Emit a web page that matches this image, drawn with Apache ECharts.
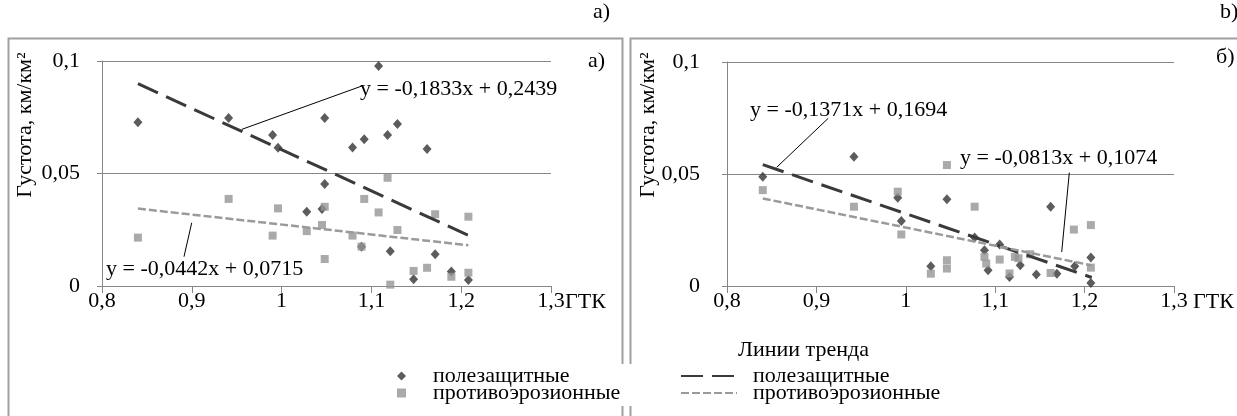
<!DOCTYPE html>
<html><head><meta charset="utf-8">
<script src="https://cdn.jsdelivr.net/npm/echarts@6/dist/echarts.min.js"></script>
<style>html,body{margin:0;padding:0;background:#fff}#c{width:1237px;height:416px}</style>
</head><body><div id="c"></div>
<script>
// ---- data ----
const xTickLabels = {'0.80':'0,8','0.90':'0,9','1.00':'1','1.10':'1,1','1.20':'1,2','1.30':'1,3'};
const yTickLabels = {'0.00':'0','0.05':'0,05','0.10':'0,1'};

// panel а) — полезащитные (diamonds)
const aPol = [[0.840,0.0728],[0.941,0.0747],[0.990,0.0671],[0.996,0.0615],[1.028,0.0330],[1.045,0.0342],[1.048,0.0747],[1.048,0.0453],[1.079,0.0616],[1.089,0.0175],[1.092,0.0652],[1.108,0.0978],[1.118,0.0671],[1.121,0.0154],[1.129,0.0720],[1.147,0.0030],[1.162,0.0609],[1.171,0.0141],[1.189,0.0064],[1.208,0.0027]];
// panel а) — противоэрозионные (squares)
const aPro = [[0.840,0.0215],[0.941,0.0387],[0.990,0.0224],[0.996,0.0345],[1.028,0.0244],[1.045,0.0271],[1.048,0.0352],[1.048,0.0120],[1.079,0.0224],[1.089,0.0175],[1.092,0.0387],[1.108,0.0327],[1.118,0.0481],[1.121,0.0006],[1.129,0.0249],[1.147,0.0067],[1.162,0.0081],[1.171,0.0319],[1.189,0.0041],[1.208,0.0308],[1.208,0.0059]];
// panel б) — полезащитные
const bPol = [[0.840,0.0488],[0.942,0.0577],[0.991,0.0394],[0.995,0.0290],[1.028,0.0088],[1.046,0.0387],[1.077,0.0217],[1.088,0.0160],[1.092,0.0070],[1.105,0.0185],[1.116,0.0040],[1.128,0.0093],[1.146,0.0051],[1.162,0.0354],[1.169,0.0055],[1.189,0.0088],[1.207,0.0127],[1.207,0.0013]];
// panel б) — противоэрозионные
const bPro = [[0.840,0.0428],[0.942,0.0354],[0.991,0.0421],[0.995,0.0230],[1.028,0.0055],[1.046,0.0540],[1.046,0.0115],[1.046,0.0078],[1.077,0.0354],[1.088,0.0130],[1.090,0.0100],[1.105,0.0118],[1.116,0.0056],[1.122,0.0130],[1.126,0.0124],[1.139,0.0142],[1.162,0.0058],[1.188,0.0252],[1.207,0.0272],[1.207,0.0082]];

// trend lines (end points of the printed equations over the data range)
const aPolTrend = [[0.840,0.0899],[1.208,0.0225]];
const aProTrend = [[0.840,0.0344],[1.208,0.0181]];
const bPolTrend = [[0.840,0.0542],[1.208,0.0038]];
const bProTrend = [[0.840,0.0391],[1.208,0.0092]];

// leader lines from equation labels to trend lines
const aPolLeader = [[0.9556,0.0696],[1.0895,0.0889]];
const aProLeader = [[0.8999,0.0281],[0.8913,0.0130]];
const bPolLeader = [[0.9133,0.0749],[0.8556,0.0530]];
const bProLeader = [[1.1829,0.0506],[1.1744,0.0152]];

const eqLabels = ['y = -0,1833x + 0,2439','y = -0,0442x + 0,0715','y = -0,1371x + 0,1694','y = -0,0813x + 0,1074'];
const nameP = 'полезащитные', nameR = 'противоэрозионные';
const yTitle = 'Густота, км/км²';

// ---- chart ----
const FONT = '"Liberation Serif","Times New Roman",serif';
const FS = 22;
const AX = '#868686';
const chart = echarts.init(document.getElementById('c'), null, {renderer:'canvas'});

function xAxis(idx){
  return {type:'value', gridIndex:idx, min:0.8, max:1.3, interval:0.1,
    axisLine:{show:true, lineStyle:{color:AX, width:1}},
    axisTick:{show:true, length:7, lineStyle:{color:AX}},
    splitLine:{show:false},
    axisLabel:{margin:4, color:'#000', fontFamily:FONT, fontSize:FS,
      formatter:v=>xTickLabels[v.toFixed(2)] || ''}};
}
function yAxis(idx, margin){
  return {type:'value', gridIndex:idx, min:0, max:0.1, interval:0.05,
    axisLine:{show:true, lineStyle:{color:AX, width:1}},
    axisTick:{show:true, length:5, lineStyle:{color:AX}},
    splitLine:{show:true, lineStyle:{color:AX, width:1}},
    axisLabel:{margin:margin, color:'#000', fontFamily:FONT, fontSize:FS,
      formatter:v=>yTickLabels[v.toFixed(2)] || ''}};
}
function scat(name, data, idx, isDiamond){
  return {type:'scatter', name:name, xAxisIndex:idx, yAxisIndex:idx, data:data,
    symbol:isDiamond?'diamond':'rect', symbolSize:isDiamond?[9,10]:8,
    itemStyle:{color:isDiamond?'#333333':'#959595'}, z:3, silent:true};
}
function trend(name, data, idx, isPol){
  return {type:'line', name:name, xAxisIndex:idx, yAxisIndex:idx, data:data,
    symbol:'none', showSymbol:false, silent:true, z:4,
    lineStyle:isPol?{color:'#3a3a3a', width:3, type:[22,9]}:{color:'#9a9a9a', width:2.5, type:[8,3]},
    itemStyle:{color:isPol?'#3a3a3a':'#9a9a9a'}};
}
function leader(data, idx){
  return {type:'line', name:'leader', xAxisIndex:idx, yAxisIndex:idx, data:data,
    symbol:'none', silent:true, z:5, lineStyle:{color:'#000', width:1}};
}
function txt(x, y, s, extra){
  return Object.assign({type:'text', x:x, y:y, z:10,
    style:Object.assign({text:s, fill:'#000', font:FS+'px '+FONT, align:'left', verticalAlign:'middle'}, extra||{})});
}
const legendText = {fontFamily:FONT, fontSize:FS, color:'#000', lineHeight:17};

const option = {
  animation:false,
  backgroundColor:'#fff',
  grid:[
    {left:102, top:61, width:449, height:225},
    {left:727, top:62, width:447, height:224}
  ],
  xAxis:[xAxis(0), xAxis(1)],
  yAxis:[yAxis(0,22), yAxis(1,27)],
  legend:[
    {data:[nameP, nameR], orient:'vertical', left:397, top:365, padding:0, itemWidth:9, itemHeight:9, itemGap:-5,
     selectedMode:false, textStyle:legendText, formatter:n=>'    '+n.trim()},
    {data:[nameP+' ', nameR+' '], orient:'vertical', left:680, top:365, padding:0, itemWidth:56, itemHeight:9, itemGap:-5,
     selectedMode:false, textStyle:legendText, itemStyle:{opacity:0}, formatter:n=>'  '+n.trim()}
  ],
  series:[
    scat(nameP, aPol, 0, true), scat(nameR, aPro, 0, false),
    trend(nameP+' ', aPolTrend, 0, true), trend(nameR+' ', aProTrend, 0, false),
    leader(aPolLeader, 0), leader(aProLeader, 0),
    scat(nameP, bPol, 1, true), scat(nameR, bPro, 1, false),
    trend(nameP+' ', bPolTrend, 1, true), trend(nameR+' ', bProTrend, 1, false),
    leader(bPolLeader, 1), leader(bProLeader, 1)
  ],
  graphic:[
    {type:'rect', z:0, shape:{x:8.5, y:38.5, width:614, height:420}, style:{fill:null, stroke:'#a0a0a0', lineWidth:2}},
    {type:'rect', z:0, shape:{x:630.5, y:38.5, width:700, height:420}, style:{fill:null, stroke:'#a0a0a0', lineWidth:2}},
    {type:'rect', z:1, shape:{x:380, y:364, width:610, height:42}, style:{fill:'#fff'}},
    txt(593, 12, 'a)'), txt(1220, 12, 'b)'),
    txt(588, 61, 'а)'), txt(1216, 57, 'б)'),
    txt(565, 302, 'ГТК'), txt(1193, 302, 'ГТК'),
    txt(360, 89, eqLabels[0]), txt(106, 269, eqLabels[1]),
    txt(750, 110, eqLabels[2]), txt(960, 158, eqLabels[3]),
    txt(738, 350, 'Линии тренда'),
    {type:'text', x:25, y:125, rotation:Math.PI/2, z:10,
     style:{text:yTitle, fill:'#000', font:FS+'px '+FONT, align:'center', verticalAlign:'middle'}},
    {type:'text', x:648, y:125, rotation:Math.PI/2, z:10,
     style:{text:yTitle, fill:'#000', font:FS+'px '+FONT, align:'center', verticalAlign:'middle'}}
  ]
};
chart.setOption(option);
</script></body></html>
